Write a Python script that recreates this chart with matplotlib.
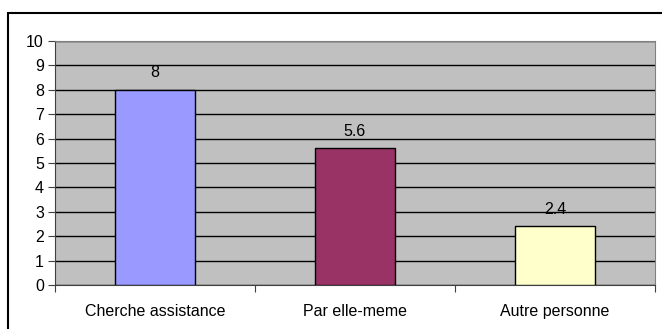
import matplotlib.pyplot as plt
from matplotlib.patches import Rectangle

categories = ["Cherche assistance", "Par elle-meme", "Autre personne"]
values = [8, 5.6, 2.4]
colors = ["#9999FF", "#993366", "#FFFFCC"]

plt.rcParams['font.family'] = ['Liberation Sans', 'DejaVu Sans']

fig = plt.figure(figsize=(6.62, 3.29), dpi=100)
ax = fig.add_axes([55 / 662, 44 / 329, 600 / 662, 244 / 329])

# outer chart frame
fig.patches.append(Rectangle((8 / 662, -0.1), 1.0, 1 - 13 / 329 + 0.1,
                             transform=fig.transFigure, fill=False,
                             edgecolor="black", linewidth=1.5))

ax.set_facecolor("#C0C0C0")
x = range(len(categories))
bars = ax.bar(x, values, width=0.4, color=colors, edgecolor="black",
              linewidth=1, zorder=3)
for b, v in zip(bars, values):
    ax.text(b.get_x() + b.get_width() / 2, v + 0.4, f"{v:g}",
            ha="center", va="bottom", fontsize=11.5)

ax.set_xlim(-0.5, 2.5)
ax.set_ylim(0, 10)
ax.set_yticks(range(0, 11))
ax.yaxis.grid(True, color="black", linewidth=1, zorder=1)
ax.set_axisbelow(True)

ax.set_xticks([-0.5, 0.5, 1.5, 2.5])
ax.set_xticklabels([])
ax.set_xticks(list(x), minor=True)
ax.set_xticklabels(categories, minor=True, fontsize=11.5)
ax.tick_params(axis="x", which="minor", length=0, pad=14)
ax.tick_params(axis="x", which="major", length=5, color="#404040")
ax.tick_params(axis="y", length=5, labelsize=11.5, color="#404040", pad=3)

for s in ["top", "right"]:
    ax.spines[s].set_color("#808080")
for s in ["left", "bottom"]:
    ax.spines[s].set_color("#404040")

fig.savefig("out.png", dpi=100)
